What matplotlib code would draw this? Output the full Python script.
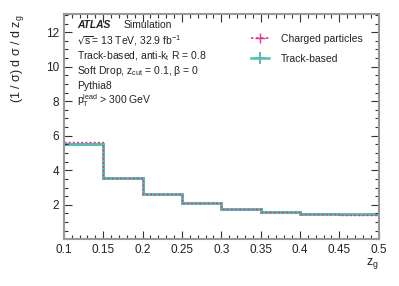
import matplotlib
matplotlib.use("Agg")
import matplotlib.pyplot as plt
import numpy as np
from matplotlib.ticker import MultipleLocator
from matplotlib.lines import Line2D

bin_edges = [0.1, 0.15, 0.2, 0.25, 0.3, 0.35, 0.4, 0.45, 0.5]
charged = [5.62, 3.53, 2.60, 2.12, 1.78, 1.56, 1.48, 1.44]
track = [5.54, 3.55, 2.60, 2.08, 1.77, 1.60, 1.49, 1.45]
xtick_labels = ['0.1', '0.15', '0.2', '0.25', '0.3', '0.35', '0.4', '0.45', '0.5']

plt.rcParams['font.family'] = ['Liberation Sans', 'DejaVu Sans']
fig = plt.figure(figsize=(3.99, 2.86), dpi=100)
ax = fig.add_axes([0.160, 0.163, 0.789, 0.788])

teal = '#5dbcb1'
pink = '#e5338c'
txtc = '#222222'

edges = np.array(bin_edges)
ax.stairs(track, edges, color=teal, lw=2.2, baseline=None)
ax.stairs(charged, edges, color=pink, lw=1.0, ls=(0, (1.5, 1.5)), baseline=None)

ax.set_xlim(0.1, 0.5)
ax.set_ylim(0, 13.05)
ax.xaxis.set_minor_locator(MultipleLocator(0.01))
ax.yaxis.set_minor_locator(MultipleLocator(0.5))
ax.set_yticks([2, 4, 6, 8, 10, 12])
ax.set_xticks(edges)
ax.set_xticklabels(xtick_labels)
ax.tick_params(which='both', direction='in', top=True, right=True, labelsize=8.5,
               color='#333333', labelcolor=txtc)
ax.tick_params(which='major', length=6, width=0.8)
ax.tick_params(which='minor', length=3, width=0.8)
for s in ax.spines.values():
    s.set_color('#999999')
    s.set_linewidth(1.5)

ax.set_xlabel(r'z$_{\mathregular{g}}$', fontsize=9, loc='right', labelpad=0, color=txtc)
ax.set_ylabel(r'(1 / σ) d σ / d z$_{\mathregular{g}}$', fontsize=9, loc='top', labelpad=14, color=txtc)

fs = 7.5
fig.text(77/399, 1-25/286, 'ATLAS', fontsize=7.4, weight='bold', style='italic', va='center', color=txtc)
fig.text(124/399, 1-25/286, 'Simulation', fontsize=fs, va='center', color=txtc)
lines = [r'$\sqrt{\mathregular{s}}$= 13 TeV, 32.9 fb$^{\mathregular{-1}}$',
         r'Track-based, anti-k$_{\mathregular{t}}$ R = 0.8',
         r'Soft Drop, z$_{\mathregular{cut}}$ = 0.1, β = 0',
         'Pythia8',
         r'p$_{\mathregular{T}}^{\mathregular{lead}}$ > 300 GeV']
ys = [41, 56, 71, 86, 101]
for t, y in zip(lines, ys):
    fig.text(77/399, 1-y/286, t, fontsize=fs, va='center', color=txtc)

leg = ax.legend([Line2D([0], [0], color=pink, ls=(0, (1.5, 1.5)), lw=1.2, marker='+', ms=7, mew=1.0),
                 Line2D([0], [0], color=teal, lw=1.8, marker='+', ms=9, mew=1.5)],
                ['Charged particles', 'Track-based'],
                loc='upper left', bbox_to_anchor=(251/399, 1-34/286), bbox_transform=fig.transFigure,
                frameon=False, fontsize=fs, handlelength=1.75, handletextpad=1.1, labelspacing=0.95,
                borderaxespad=0, borderpad=0, labelcolor=txtc)

fig.savefig('out.png', dpi=100)
